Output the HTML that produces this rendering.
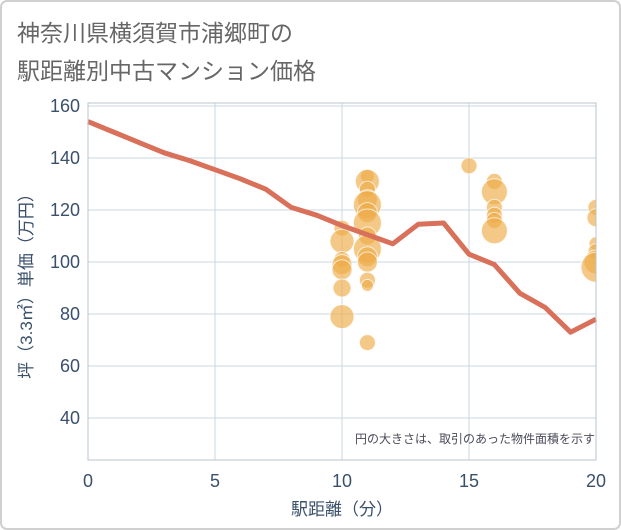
<!DOCTYPE html>
<html><head><meta charset="utf-8"><style>
body{margin:0;background:#fff;}
svg{display:block;font-family:"Liberation Sans","Noto Sans CJK JP",sans-serif;}
</style></head><body>
<svg id="c" width="621" height="530" viewBox="0 0 621 530">
<rect x="1" y="1" width="619" height="528" rx="6" fill="#fff" stroke="#d0d0d0" stroke-width="2"/>
<text x="17" y="41" font-size="23" fill="#666">神奈川県横須賀市浦郷町の</text>
<text x="17" y="79" font-size="23" fill="#666">駅距離別中古マンション価格</text>
<g id="grid"></g>
<g id="bubbles"></g>
<g id="line"></g>
<rect x="88" y="103" width="508" height="357" fill="none" stroke="#b8c4cc" stroke-width="1"/>
<text x="595" y="443" font-size="12" fill="#4a4a5a" text-anchor="end">円の大きさは、取引のあった物件面積を示す</text>
<text x="342" y="515" font-size="17" fill="#3a506b" text-anchor="middle">駅距離（分）</text>
<text transform="translate(32,282) rotate(-90)" font-size="17" fill="#3a506b" text-anchor="middle">坪（3.3㎡）単価（万円）</text>
</svg>
<script>
const lineX=[0,1,2,3,4,5,6,7,8,9,10,11,12,13,14,15,16,17,18,19,20];
const lineY=[154,150,146,142,139,135.5,132,128,121,118,114,110.5,107,114.5,115,103,99,88,82.5,73,78];
const bubX=[10,10,10,10,10,10,10,11,11,11,11,11,11,11,11,11,11,11,11,11,11,15,16,16,16,16,16,16,20,20,20,20,20,20];
const bubY=[113,108,101,99,97,90,79,133,131,128,124,122,119,115,110,105,102,100,93,91,69,137,131,127,121,118,116,112,121,117,107,104,100,98];
const bubR=[8,12,8,10,10,9,12,7,12,8,10,14,10,14,9,14,10,10,8,6,8,8,8,13,8,8,8,13,8,9,7,8,12,15];
const xTicks=[0,5,10,15,20];
const yTicks=[40,60,80,100,120,140,160];
const NS='http://www.w3.org/2000/svg';
const sx=v=>88+v*25.4, sy=v=>106+(160-v)*2.6;
function mk(t,a,p){const e=document.createElementNS(NS,t);for(const k in a)e.setAttribute(k,a[k]);p.appendChild(e);return e;}
const g=document.getElementById('grid');
xTicks.forEach(t=>{
 const l=mk('line',{x1:sx(t),x2:sx(t),y1:103,y2:460,stroke:'#c9d7e3'},g);
 
 
 const tx=mk('text',{x:sx(t),y:487,'font-size':18,fill:'#3a506b','text-anchor':'middle'},g);tx.textContent=t;
 
 
});
yTicks.forEach(t=>{
 const l=mk('line',{x1:88,x2:596,y1:sy(t),y2:sy(t),stroke:'#c9d7e3'},g);
 
 
 const tx=mk('text',{x:80,y:sy(t)+6,'font-size':18,fill:'#3a506b','text-anchor':'end'},g);tx.textContent=t;
 
 
});
const defs=mk('defs',{},document.getElementById('c'));
const cp=mk('clipPath',{id:'clip'},defs);mk('rect',{x:88,y:103,width:508,height:357},cp);
const b=document.getElementById('bubbles');b.setAttribute('clip-path','url(#clip)');
bubX.forEach((x,i)=>{
 const c=mk('circle',{cx:sx(x),cy:sy(bubY[i]),r:bubR[i],fill:'rgba(238,172,72,0.65)',stroke:'rgba(255,255,255,0.7)','stroke-width':1},b);
 
 
});
const p=mk('polyline',{points:lineX.map((x,i)=>sx(x)+','+sy(lineY[i])).join(' '),fill:'none',stroke:'#d9705a','stroke-width':5,'stroke-linejoin':'round'},document.getElementById('line'));


</script>
</body></html>
